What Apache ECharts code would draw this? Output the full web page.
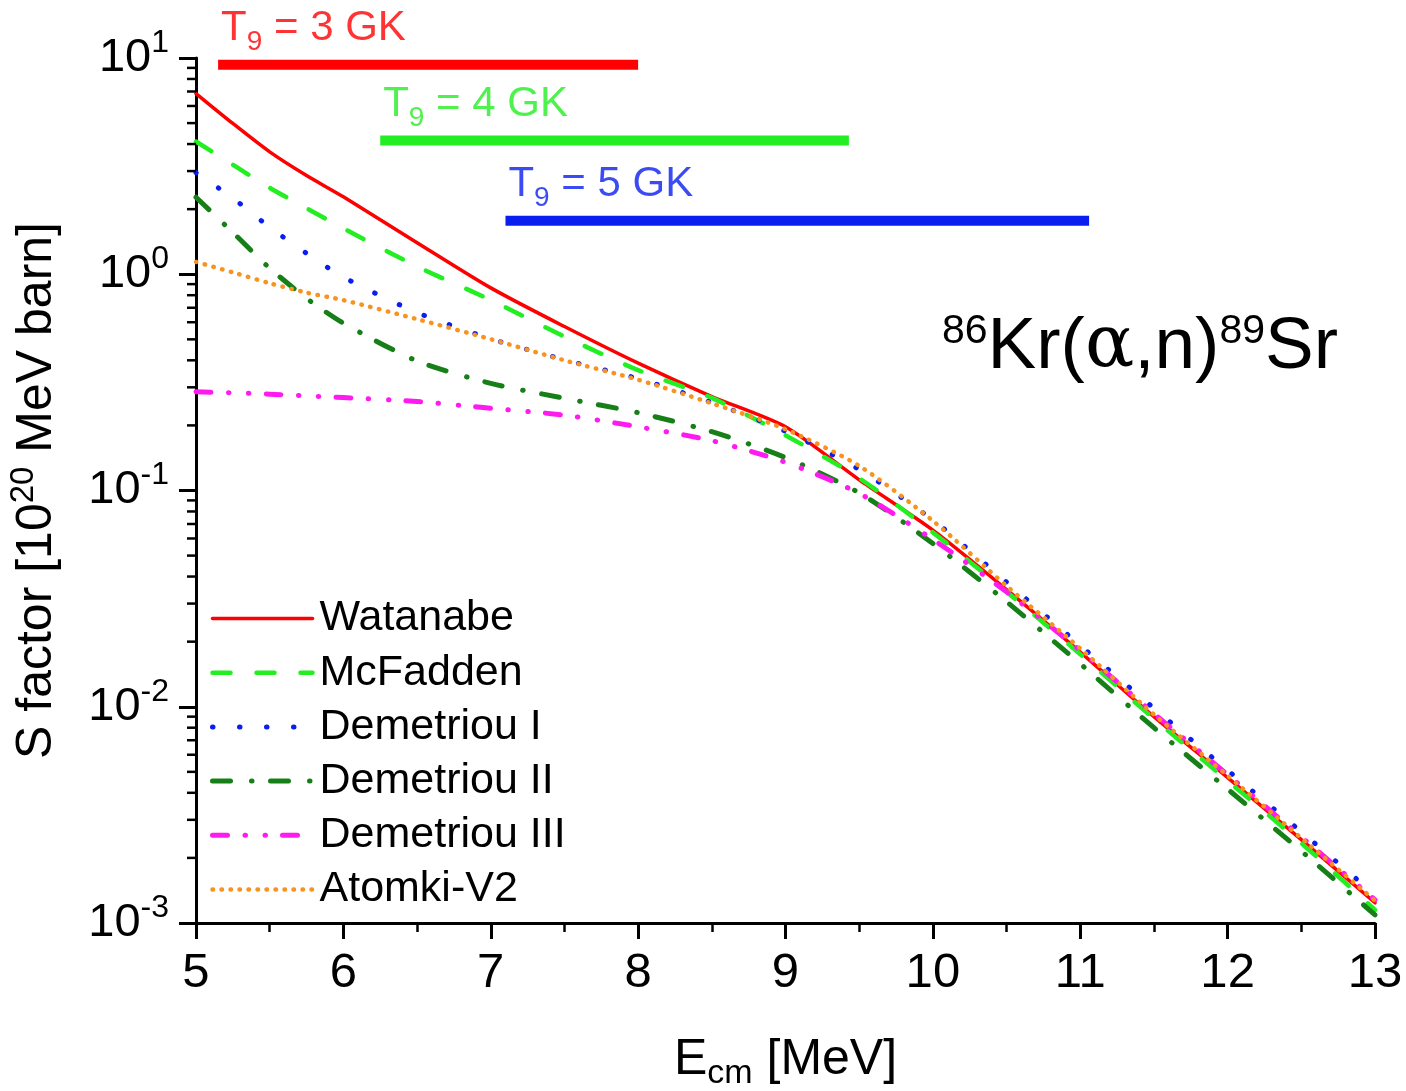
<!DOCTYPE html>
<html><head><meta charset="utf-8">
<script src="https://cdn.jsdelivr.net/npm/echarts@6/dist/echarts.min.js"></script>
<style>html,body{margin:0;padding:0;background:#fff}#c{width:1406px;height:1091px}</style>
</head><body><div id="c"></div>
<script>
// ---- data ----
const energy     = [5, 5.25, 5.5, 5.75, 6, 6.5, 7, 7.5, 8, 8.5, 9, 9.5, 10, 10.5, 11, 11.5, 12, 12.5, 13];
const watanabe   = [6.85, 4.98, 3.68, 2.86, 2.28, 1.40, 0.865, 0.573, 0.388, 0.272, 0.197, 0.112, 0.0656, 0.0348, 0.0179, 0.0090, 0.0047, 0.00243, 0.00124];
const mcfadden   = [4.11, 3.21, 2.51, 2.02, 1.63, 1.086, 0.76, 0.515, 0.36, 0.268, 0.18, 0.114, 0.064, 0.034, 0.0175, 0.0088, 0.00455, 0.00234, 0.00115];
const demetriou1 = [2.95, 2.25, 1.65, 1.25, 0.97, 0.665, 0.503, 0.402, 0.329, 0.255, 0.188, 0.125, 0.073, 0.0377, 0.0192, 0.00984, 0.00508, 0.00264, 0.00135];
const demetriou2 = [2.27, 1.56, 1.067, 0.774, 0.594, 0.397, 0.313, 0.267, 0.229, 0.187, 0.142, 0.0975, 0.0569, 0.0306, 0.0158, 0.0080, 0.00416, 0.00215, 0.00109];
const demetriou3 = [0.286, 0.283, 0.279, 0.274, 0.269, 0.258, 0.240, 0.223, 0.197, 0.170, 0.135, 0.097, 0.0594, 0.034, 0.0182, 0.0093, 0.00485, 0.0025, 0.00128];
const atomki     = [1.14, 1.02, 0.909, 0.822, 0.759, 0.620, 0.501, 0.40, 0.325, 0.253, 0.192, 0.130, 0.0724, 0.0362, 0.0186, 0.0092, 0.0048, 0.00247, 0.00127];

const seriesNames = ['Watanabe', 'McFadden', 'Demetriou I', 'Demetriou II', 'Demetriou III', 'Atomki-V2'];

// Gamow windows
const windowTemps = [3, 4, 5];
const windowStart = [5.15, 6.25, 7.10];
const windowEnd   = [8.00, 9.43, 11.06];
const windowLevel = [9.3, 4.15, 1.77];

// axis ticks
const xTicks = [5, 6, 7, 8, 9, 10, 11, 12, 13];
const yDecades = [0.001, 0.01, 0.1, 1, 10];
const minorMultipliers = [2, 3, 4, 5, 6, 7, 8, 9];

// ---- styling ----
const FONT = 'Liberation Sans, Arial, sans-serif';
const C = {
  red: '#fe0000', lgreen: '#22ee22', blue: '#0a1ef0', dgreen: '#177f17', magenta: '#ff1af0', orange: '#f7931e'
};
const windowColors = [C.red, C.lgreen, C.blue];

function pairs(ys) { return energy.map((e, i) => [e, ys[i]]); }

function curve(name, ys, color, width, dash) {
  return {
    name, type: 'line', data: pairs(ys), symbol: 'none', smooth: 0.25, z: 3,
    lineStyle: { color, width, type: dash, cap: 'round', join: 'round' },
    itemStyle: { color }
  };
}

const series = [
  curve(seriesNames[0], watanabe,   C.red,     3.5, 'solid'),
  curve(seriesNames[1], mcfadden,   C.lgreen,  4.5, [18, 26]),
  curve(seriesNames[2], demetriou1, C.blue,    5,   [0.5, 26.5]),
  curve(seriesNames[3], demetriou2, C.dgreen,  5,   [18, 21, 0.5, 18.5]),
  curve(seriesNames[4], demetriou3, C.magenta, 5,   [15, 17.5, 0.5, 19.5, 0.5, 17]),
  curve(seriesNames[5], atomki,     C.orange,  4.5, [0.5, 8.5])
];

// Gamow window bars
windowTemps.forEach((t, i) => {
  series.push({
    type: 'line', silent: true, symbol: 'none', z: 2,
    data: [[windowStart[i], windowLevel[i]], [windowEnd[i], windowLevel[i]]],
    lineStyle: { color: windowColors[i], width: 10, cap: 'butt' }
  });
});
// Gamow window labels
series.push({
  type: 'scatter', silent: true, symbolSize: 0.1, z: 4,
  itemStyle: { color: 'rgba(0,0,0,0)' },
  data: windowTemps.map((t, i) => ({
    value: [windowStart[i], windowLevel[i]],
    label: {
      show: true, position: [3, -64], align: 'left',
      formatter: '{t|T}{s|9}{t| = ' + t + ' GK}',
      rich: {
        t: { fontSize: 42, fontFamily: FONT, color: windowColors[i] },
        s: { fontSize: 28, fontFamily: FONT, color: windowColors[i], padding: [28, 0, 0, 0] }
      }
    }
  }))
});

// log-axis minor ticks
const minorData = [];
yDecades.slice(0, -1).forEach(d => minorMultipliers.forEach(m => minorData.push([5, d * m])));
series.push({
  type: 'custom', silent: true, clip: false, z: 10,
  data: minorData,
  encode: { x: 0, y: 1 },
  renderItem: function (params, api) {
    const p = api.coord([api.value(0), api.value(1)]);
    return { type: 'line', shape: { x1: p[0] - 9, y1: p[1], x2: p[0], y2: p[1] },
             style: { stroke: '#000', lineWidth: 2.5 } };
  }
});

const chart = echarts.init(document.getElementById('c'), null, { renderer: 'canvas' });
chart.setOption({
  animation: false,
  backgroundColor: '#fff',
  grid: { left: 196, right: 31, top: 58, bottom: 168, containLabel: false, outerBoundsMode: 'none' },
  legend: {
    orient: 'vertical', left: 210, top: 597, padding: 0,
    itemWidth: 100, itemHeight: 12, itemGap: 11.2,
    data: seriesNames,
    textStyle: { fontSize: 43, fontFamily: FONT, color: '#000', lineHeight: 42, padding: [0, 0, 0, 2] },
    lineStyle: { width: 'inherit', type: 'inherit', cap: 'inherit' },
    itemStyle: { opacity: 0, borderWidth: 0 },
    selectedMode: false
  },
  xAxis: {
    type: 'value', min: 5, max: 13, interval: 1,
    axisLine: { show: true, onZero: false, lineStyle: { color: '#000', width: 3 } },
    axisTick: { show: true, inside: false, length: 16, lineStyle: { color: '#000', width: 3 } },
    minorTick: { show: true, splitNumber: 2, length: 9, lineStyle: { color: '#000', width: 2.5 } },
    splitLine: { show: false }, minorSplitLine: { show: false },
    axisLabel: { fontSize: 49, fontFamily: FONT, color: '#000', margin: 26,
                 formatter: v => xTicks.includes(v) ? String(v) : '' },
    name: '{t|E}{s|cm}{t| [MeV]}',
    nameLocation: 'middle', nameGap: 106,
    nameTextStyle: {
      rich: {
        t: { fontSize: 50, fontFamily: FONT, color: '#000' },
        s: { fontSize: 34, fontFamily: FONT, color: '#000', padding: [28, 0, 0, 0] }
      }
    }
  },
  yAxis: {
    type: 'log', logBase: 10, min: 0.001, max: 10, splitNumber: 4,
    axisLine: { show: true, lineStyle: { color: '#000', width: 3 } },
    axisTick: { show: true, inside: false, length: 17, lineStyle: { color: '#000', width: 3 } },
    splitLine: { show: false },
    axisLabel: {
      margin: 27, color: '#000',
      formatter: v => '{b|10}{s|' + Math.round(Math.log10(v)) + '}',
      rich: {
        b: { fontSize: 47, fontFamily: FONT, color: '#000' },
        s: { fontSize: 32, fontFamily: FONT, color: '#000', padding: [0, 0, 30, 0] }
      }
    },
    name: '{t|S factor [10}{s|20}{t| MeV barn]}',
    nameLocation: 'middle', nameRotate: 90, nameGap: 128,
    nameTextStyle: {
      rich: {
        t: { fontSize: 50, fontFamily: FONT, color: '#000' },
        s: { fontSize: 33, fontFamily: FONT, color: '#000', padding: [0, 0, 28, 0] }
      }
    }
  },
  graphic: [{
    type: 'text', left: 942, top: 311, z: 20,
    style: {
      text: '{s|86}{m|Kr(}{g|α}{m|,n)}{s|89}{m|Sr}',
      rich: {
        m: { fontSize: 73, fontFamily: FONT, fill: '#000', color: '#000' },
        g: { fontSize: 73, fontFamily: 'DejaVu Serif, Liberation Serif, serif', fill: '#000', color: '#000' },
        s: { fontSize: 41, fontFamily: FONT, fill: '#000', color: '#000', padding: [0, 0, 32, 0] }
      }
    }
  }],
  series
});
</script></body></html>
